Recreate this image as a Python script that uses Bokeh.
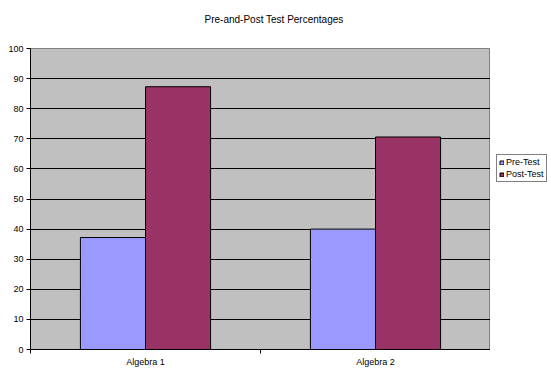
from bokeh.plotting import figure
from bokeh.layouts import row
from bokeh.models import (ColumnDataSource, FixedTicker, Range1d, Legend, LegendItem, Title)
from bokeh.embed import file_html
from bokeh.resources import INLINE

categories = ["Algebra 1", "Algebra 2"]
pre_test = [37.2, 40.0]
post_test = [87.3, 70.6]
series_names = ["Pre-Test", "Post-Test"]
y_ticks = [0, 10, 20, 30, 40, 50, 60, 70, 80, 90, 100]

FONT = "Liberation Sans"
PRE_COLOR = "#9999FF"
POST_COLOR = "#993366"
bar_w = 0.283
idx = list(range(len(categories)))
src = ColumnDataSource(dict(
    pre_x=[i + 0.5 - bar_w / 2 for i in idx],
    post_x=[i + 0.5 + bar_w / 2 for i in idx],
    pre=pre_test, post=post_test,
))

p = figure(width=490, height=377, output_backend="svg", toolbar_location=None,
           x_range=Range1d(0, len(categories)), y_range=Range1d(0, 100),
           min_border_left=30, min_border_right=0, min_border_top=48, min_border_bottom=28)
p.background_fill_color = "#C0C0C0"
p.border_fill_color = "white"
p.outline_line_color = "#808080"
p.outline_line_width = 1

# y axis
yaxis = p.yaxis[0]
yaxis.ticker = FixedTicker(ticks=y_ticks)
yaxis.major_tick_out = 4
yaxis.major_tick_in = 0
yaxis.minor_tick_line_color = None
yaxis.axis_line_color = "black"
yaxis.major_tick_line_color = "black"
yaxis.major_label_text_color = "black"
yaxis.major_label_text_font = FONT
yaxis.major_label_text_font_size = "9px"
yaxis.major_label_standoff = 3

# x axis
xaxis = p.xaxis[0]
xaxis.ticker = FixedTicker(ticks=[i + 0.5 for i in idx], minor_ticks=list(range(len(categories) + 1)))
xaxis.major_label_overrides = {i + 0.5: c for i, c in zip(idx, categories)}
xaxis.major_tick_out = 0
xaxis.major_tick_in = 0
xaxis.minor_tick_out = 4
xaxis.minor_tick_in = 0
xaxis.minor_tick_line_color = "black"
xaxis.axis_line_color = "black"
xaxis.major_label_text_color = "black"
xaxis.major_label_text_font = FONT
xaxis.major_label_text_font_size = "9px"
xaxis.major_label_standoff = 3

p.ygrid.ticker = FixedTicker(ticks=y_ticks[1:-1])
p.ygrid.grid_line_color = "black"
p.ygrid.grid_line_alpha = 1
p.ygrid.grid_line_width = 1
p.xgrid.grid_line_color = None

p.vbar(x="pre_x", top="pre", width=bar_w, bottom=0, source=src,
       fill_color=PRE_COLOR, line_color="black", line_width=1)
p.vbar(x="post_x", top="post", width=bar_w, bottom=0, source=src,
       fill_color=POST_COLOR, line_color="black", line_width=1)

# title: spacer nearest the frame, then the real title
spacer = Title(text=" ", text_font_size="10px", standoff=6)
p.add_layout(spacer, "above")
title = Title(text="Pre-and-Post Test Percentages", align="left",
              text_font=FONT, text_font_size="10px", text_font_style="normal",
              text_color="black", offset=174, standoff=10)
p.add_layout(title, "above")

# legend panel at the right (its renderers use the same data, outside its view)
lf = figure(width=61, height=377, output_backend="svg", toolbar_location=None,
            x_range=Range1d(-3, -2), y_range=Range1d(-3, -2),
            x_axis_type=None, y_axis_type=None,
            min_border_left=0, min_border_right=0, min_border_top=0, min_border_bottom=0)
lf.outline_line_color = None
lf.background_fill_color = "white"
lf.border_fill_color = "white"
lf.xgrid.grid_line_color = None
lf.ygrid.grid_line_color = None
l_pre = lf.vbar(x="pre_x", top="pre", width=bar_w, bottom=0, source=src,
                fill_color=PRE_COLOR, line_color="black", line_width=1)
l_post = lf.vbar(x="post_x", top="post", width=bar_w, bottom=0, source=src,
                 fill_color=POST_COLOR, line_color="black", line_width=1)

legend = Legend(items=[LegendItem(label=series_names[0], renderers=[l_pre]),
                       LegendItem(label=series_names[1], renderers=[l_post])],
                location=(6, 167), orientation="vertical")
legend.label_text_font = FONT
legend.label_text_font_size = "9px"
legend.label_text_color = "black"
legend.glyph_width = 5
legend.glyph_height = 5
legend.label_height = 10
legend.label_standoff = 2
legend.spacing = 2
legend.padding = 2
legend.margin = 0
legend.border_line_color = "black"
legend.border_line_width = 1
legend.background_fill_color = "white"
legend.background_fill_alpha = 1
lf.add_layout(legend, "center")

layout = row(p, lf)
open("out.html", "w").write(file_html(layout, INLINE))
